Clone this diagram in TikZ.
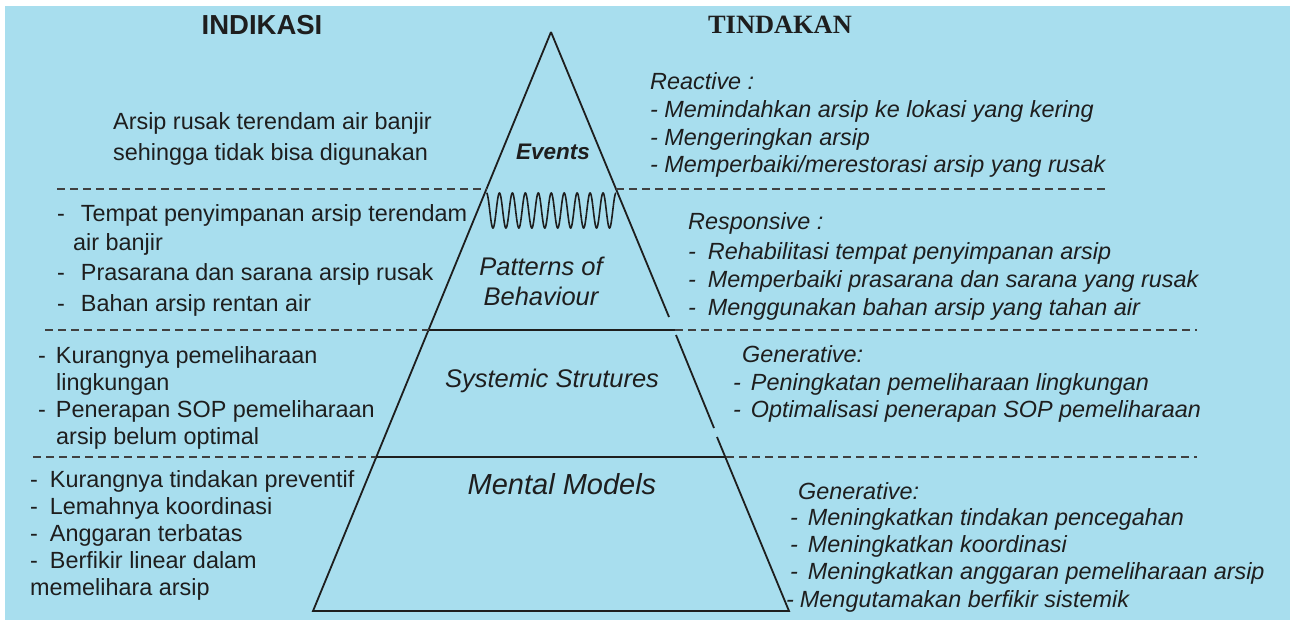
\documentclass[tikz,border=0pt]{standalone}
\usepackage{fontspec}
\setmainfont{Liberation Sans}
\newfontfamily\titleserif{Liberation Serif}
\definecolor{bgblue}{RGB}{168,222,238}
\definecolor{ink}{RGB}{30,30,30}
\begin{document}
\begin{tikzpicture}[x=1pt,y=-1pt,
  txt/.style={anchor=base west,inner sep=0pt,font=\fontsize{23.4}{27}\selectfont,text=ink},
  itx/.style={anchor=base west,inner sep=0pt,font=\fontsize{23.4}{27}\selectfont\itshape,text=ink},
  lvl/.style={anchor=center,inner sep=0pt,font=\fontsize{25.5}{29}\selectfont\itshape,text=ink},
  edge/.style={line width=1.8pt,draw=ink},
  sep/.style={line width=1.5pt,draw=ink!85,dash pattern=on 8pt off 5pt}]
\useasboundingbox (0,0) rectangle (1290,627);
\fill[white] (0,0) rectangle (1290,627);
\fill[bgblue] (5,6) rectangle (1290,620);

% pyramid coordinates
\coordinate (apex) at (551,32);
\coordinate (bl) at (313,611);
\coordinate (br) at (789,611);
\coordinate (l1) at (486.5,189);
\coordinate (r1) at (616,189);
\coordinate (l2) at (428.5,330);
\coordinate (r2) at (675,330);
\coordinate (l3) at (376.3,457);
\coordinate (r3) at (726,457);
\coordinate (ra) at (669,317);
\coordinate (rb) at (676,335);
\coordinate (rc) at (714,428);
\coordinate (rd) at (717,437);

\draw[edge] (apex) -- (bl) -- (br) -- (rd);
\draw[edge] (rc) -- (rb);
\draw[edge] (apex) -- (ra);
\draw[edge] (l2) -- (r2);
\draw[edge] (l3) -- (r3);
\draw[edge,line width=1.6pt] plot[domain=0:1,samples=600,smooth] ({486.5+129.5*\x},{210.5-17.5*cos(3600*\x)});

% dashed separators
\coordinate (d1a) at (57,189);  \coordinate (d1b) at (1105,189);
\coordinate (d2a) at (45,330);  \coordinate (d2b) at (1197,330);
\coordinate (d3a) at (33,457);  \coordinate (d3b) at (1197,457);
\draw[sep] (d1a) -- (l1);  \draw[sep] (r1) -- (d1b);
\draw[sep] (d2a) -- (l2);  \draw[sep] (r2) -- (d2b);
\draw[sep] (d3a) -- (l3);  \draw[sep] (r3) -- (d3b);

% titles
\node[inner sep=0pt,text=ink,font=\fontsize{27.5}{31}\selectfont\bfseries] (tInd) at (262,25) {INDIKASI};
\node[inner sep=0pt,text=ink,font=\titleserif\fontsize{26.4}{30}\selectfont\bfseries] (tTin) at (780,25) {TINDAKAN};

% pyramid level labels
\node[lvl,font=\fontsize{22.5}{26}\selectfont\bfseries\itshape] (lvEv) at (553,152) {Events};
\node[lvl] (lvPa) at (541,266) {Patterns of};
\node[lvl] (lvPb) at (541,296) {Behaviour};
\node[lvl] (lvSy) at (552,381) {Systemic Strutures};
\node[lvl,font=\fontsize{29}{33}\selectfont\itshape] (lvMe) at (562,484) {Mental Models};

% left column
\node[txt] (a1) at (113,129) {Arsip rusak terendam air banjir};
\node[txt] (a2) at (113,160) {sehingga tidak bisa digunakan};
\node[txt] (b1) at (57,221) {-\hspace{16pt}Tempat penyimpanan arsip terendam};
\node[txt] (b2) at (73,250) {air banjir};
\node[txt] (b3) at (57,280) {-\hspace{16pt}Prasarana dan sarana arsip rusak};
\node[txt] (b4) at (57,311) {-\hspace{16pt}Bahan arsip rentan air};
\node[txt] (c1) at (38,363) {-\hspace{10pt}Kurangnya pemeliharaan};
\node[txt] (c2) at (56,390) {lingkungan};
\node[txt] (c3) at (38,417) {-\hspace{10pt}Penerapan SOP pemeliharaan};
\node[txt] (c4) at (56,444) {arsip belum optimal};
\node[txt] (e1) at (30,487) {-\hspace{12pt}Kurangnya tindakan preventif};
\node[txt] (e2) at (30,514) {-\hspace{12pt}Lemahnya koordinasi};
\node[txt] (e3) at (30,541) {-\hspace{12pt}Anggaran terbatas};
\node[txt] (e4) at (30,568) {-\hspace{12pt}Berfikir linear dalam};
\node[txt] (e5) at (30,595) {memelihara arsip};

% right column
\node[itx] (f0) at (650,89) {Reactive :};
\node[itx] (f1) at (650,117) {- Memindahkan arsip ke lokasi yang kering};
\node[itx] (f2) at (650,145) {- Mengeringkan arsip};
\node[itx] (f3) at (650,172) {- Memperbaiki/merestorasi arsip yang rusak};
\node[itx] (g0) at (688,229) {Responsive :};
\node[itx] (g1) at (688,259) {-\hspace{12pt}Rehabilitasi tempat penyimpanan arsip};
\node[itx] (g2) at (688,287) {-\hspace{12pt}Memperbaiki prasarana dan sarana yang rusak};
\node[itx] (g3) at (688,315) {-\hspace{12pt}Menggunakan bahan arsip yang tahan air};
\node[itx] (h0) at (742,362) {Generative:};
\node[itx] (h1) at (733,390) {-\hspace{10pt}Peningkatan pemeliharaan lingkungan};
\node[itx] (h2) at (733,417) {-\hspace{10pt}Optimalisasi penerapan SOP pemeliharaan};
\node[itx] (k0) at (798,499) {Generative:};
\node[itx] (k1) at (790,525) {-\hspace{10pt}Meningkatkan tindakan pencegahan};
\node[itx] (k2) at (790,552) {-\hspace{10pt}Meningkatkan koordinasi};
\node[itx] (k3) at (790,579) {-\hspace{10pt}Meningkatkan anggaran pemeliharaan arsip};
\node[itx] (k4) at (786,607) {-\hspace{6pt}Mengutamakan berfikir sistemik};
\end{tikzpicture}
\end{document}
